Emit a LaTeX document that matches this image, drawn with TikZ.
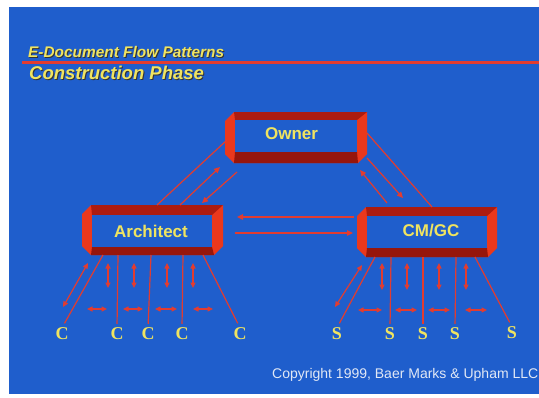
\documentclass[tikz,border=0pt]{standalone}
\usepackage{fontspec}
\setmainfont{Liberation Serif}
\setsansfont{Liberation Sans}
\usetikzlibrary{arrows.meta}
\definecolor{bg}{RGB}{31,94,204}
\definecolor{lred}{RGB}{226,60,48}
\definecolor{bright}{RGB}{234,56,28}
\definecolor{darkr}{RGB}{172,28,16}
\definecolor{darkerr}{RGB}{150,22,12}
\definecolor{yel}{RGB}{240,228,96}
\definecolor{copyc}{RGB}{225,232,245}
\newcommand{\frameBox}[8]{%
  \fill[bright] (#1,#3+9) -- (#1+9,#3) -- (#2,#3) -- (#2,#4-9) -- (#2-9,#4) -- (#1+9,#4) -- (#1,#4-9) -- cycle;
  \fill[darkr] (#1+9,#3) -- (#2,#3) -- (#6,#7) -- (#5,#7) -- cycle;
  \fill[darkerr] (#1+9,#4) -- (#2-9,#4) -- (#6,#8) -- (#5,#8) -- cycle;
  \fill[bg] (#5,#7) rectangle (#6,#8);
}
\tikzset{
  conn/.style={draw=lred, line width=1.2pt},
  arr/.style={conn, -{Triangle[length=6pt,width=5.5pt]}},
  darr/.style={conn, {Triangle[length=5.5pt,width=5pt]}-{Triangle[length=5.5pt,width=5pt]}},
  lbl/.style={font=\sffamily\bfseries\fontsize{17}{17}\selectfont, text=yel, inner sep=0pt},
  cs/.style={font=\rmfamily\bfseries\fontsize{18}{18}\selectfont, text=yel, inner sep=0pt},
  ttl/.style={font=\sffamily\bfseries\itshape, inner sep=0pt, anchor=base west},
}
\begin{document}
\begin{tikzpicture}[x=1pt,y=-1pt]
\useasboundingbox (0,0) rectangle (539,397);
\fill[white] (0,0) rectangle (539,397);
\fill[bg] (9,7) rectangle (539,394);
% title
\node[ttl, text=black!80, font=\sffamily\bfseries\itshape\fontsize{15.4}{15}\selectfont] at (29,58) {E-Document Flow Patterns};
\node[ttl, text=yel, font=\sffamily\bfseries\itshape\fontsize{15.4}{15}\selectfont] (t1) at (28,57) {E-Document Flow Patterns};
\fill[lred] (22,61) rectangle (539,63.5);
\node[ttl, text=black!80, font=\sffamily\bfseries\itshape\fontsize{18.5}{18}\selectfont] at (30,80) {Construction Phase};
\node[ttl, text=yel, font=\sffamily\bfseries\itshape\fontsize{18.5}{18}\selectfont] (t2) at (29,79) {Construction Phase};
% boxes
\frameBox{225}{367}{112}{163}{235}{357}{120}{152}
\frameBox{82}{223}{205}{255}{92}{212}{215}{247}
\frameBox{357}{497}{207}{257}{367}{487}{216}{248}
\node[lbl] (owner) at (291.5,134) {Owner};
\node[lbl] (arch) at (151,231) {Architect};
\node[lbl] (cmgc) at (431,231) {CM/GC};
% endpoints
\coordinate (o1) at (227,140); \coordinate (a1) at (157,205);
\coordinate (a2) at (180,205); \coordinate (o2) at (220,167);
\coordinate (o3) at (237,172); \coordinate (a3) at (202,203);
\coordinate (o4) at (367,133); \coordinate (c1) at (432,207);
\coordinate (o5) at (367,158); \coordinate (c2) at (403,198);
\coordinate (c3) at (387,203); \coordinate (o6) at (360,170);
\coordinate (c4) at (354,217); \coordinate (a4) at (237,217);
\coordinate (a5) at (235,233); \coordinate (c5) at (353,233);
\draw[conn] (o1) -- (a1);
\draw[arr] (a2) -- (o2);
\draw[arr] (o3) -- (a3);
\draw[conn] (o4) -- (c1);
\draw[arr] (o5) -- (c2);
\draw[arr] (c3) -- (o6);
\draw[arr] (c4) -- (a4);
\draw[arr] (a5) -- (c5);
% consultants
\node[cs] (C1) at (62,334) {C};
\node[cs] (C2) at (117,334) {C};
\node[cs] (C3) at (148,334) {C};
\node[cs] (C4) at (182,334) {C};
\node[cs] (C5) at (240,334) {C};
\coordinate (ab1) at (103,255); \coordinate (ab2) at (118,255);
\coordinate (ab3) at (151,255); \coordinate (ab4) at (183,255);
\coordinate (ab5) at (203,255);
\draw[conn, shorten >=5pt] (ab1) -- (C1.north);
\draw[conn, shorten >=4pt] (ab2) -- (C2.north);
\draw[conn, shorten >=4pt] (ab3) -- (C3.north);
\draw[conn, shorten >=4pt] (ab4) -- (C4.north);
\draw[conn, shorten >=5pt] (ab5) -- (C5.north);
\coordinate (ad1) at (88,263); \coordinate (ad2) at (63,307);
\draw[darr] (ad1) -- (ad2);
\foreach \x/\n in {108/1,134/2,167/3,193/4}{
  \coordinate (av\n t) at (\x,263); \coordinate (av\n b) at (\x,288);
  \draw[darr] (av\n t) -- (av\n b);
}
\foreach \a/\b/\n in {87/107/1,123/143/2,155/177/3,193/213/4}{
  \coordinate (ah\n l) at (\a,309); \coordinate (ah\n r) at (\b,309);
  \draw[darr] (ah\n l) -- (ah\n r);
}
% subcontractors
\node[cs] (S1) at (337,334) {S};
\node[cs] (S2) at (390,334) {S};
\node[cs] (S3) at (423,334) {S};
\node[cs] (S4) at (455,334) {S};
\node[cs] (S5) at (512,333) {S};
\coordinate (cb1) at (375,257); \coordinate (cb2) at (391,257);
\coordinate (cb3) at (423,257); \coordinate (cb4) at (456,257);
\coordinate (cb5) at (475,257);
\draw[conn, shorten >=5pt] (cb1) -- (S1.north);
\draw[conn, shorten >=4pt] (cb2) -- (S2.north);
\draw[conn, shorten >=4pt] (cb3) -- (S3.north);
\draw[conn, shorten >=4pt] (cb4) -- (S4.north);
\draw[conn, shorten >=5pt] (cb5) -- (S5.north);
\coordinate (cd1) at (362,265); \coordinate (cd2) at (335,307);
\draw[darr] (cd1) -- (cd2);
\foreach \x/\n in {382/1,407/2,439/3,466/4}{
  \coordinate (cv\n t) at (\x,263); \coordinate (cv\n b) at (\x,290);
  \draw[darr] (cv\n t) -- (cv\n b);
}
\foreach \a/\b/\n in {358/382/1,395/417/2,428/450/3,465/487/4}{
  \coordinate (ch\n l) at (\a,310); \coordinate (ch\n r) at (\b,310);
  \draw[darr] (ch\n l) -- (ch\n r);
}
\node[font=\sffamily\fontsize{14}{14}\selectfont, text=copyc, anchor=west, inner sep=0pt] (copy) at (272,375) {Copyright 1999, Baer Marks \& Upham LLC};
\end{tikzpicture}
\end{document}
